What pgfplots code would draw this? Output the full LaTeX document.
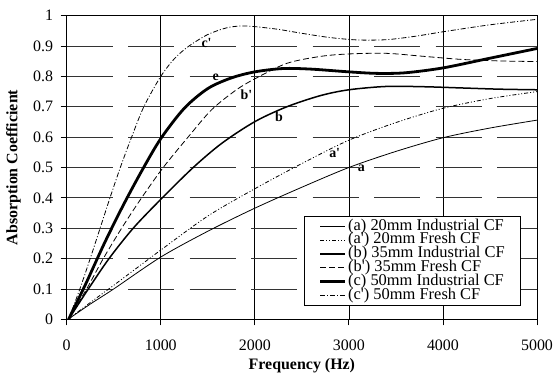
\documentclass[border=0pt]{standalone}
\usepackage{fontspec}
\setmainfont{Liberation Serif}
\usepackage{pgfplots}
\pgfplotsset{compat=1.18}
\begin{document}
\begin{tikzpicture}
\useasboundingbox (-66.7bp,-53.7bp) rectangle (487.3bp,319.3bp);
\begin{axis}[
  scale only axis, width=470.3bp, height=303.6bp,
  xmin=0, xmax=5000, ymin=0, ymax=1,
  xtick={0,1000,2000,3000,4000,5000},
  ytick={0,0.1,0.2,0.3,0.4,0.5,0.6,0.7,0.8,0.9,1},
  xtick pos=bottom, ytick pos=left,
  tick align=outside, major tick length=6bp,
  grid=major,
  major x grid style={black, line width=0.7bp, solid},
  major y grid style={black!80, line width=0.8bp, dash pattern=on 46bp off 15.5bp},
  axis line style={line width=0.9bp},
  tick style={black, line width=0.8bp},
  /pgf/number format/assume math mode=true,
  scaled x ticks=false, scaled y ticks=false,
  tick label style={font=\fontsize{16}{19}\selectfont},
  xticklabel style={/pgf/number format/1000 sep={}, anchor=north, inner sep=0pt, yshift=-14.5bp},
  yticklabel style={/pgf/number format/fixed, /pgf/number format/precision=1, anchor=east, inner sep=0pt, xshift=-7.4bp},
  xlabel={Frequency (Hz)},
  ylabel={Absorption Coefficient},
  xlabel style={at={(axis description cs:0.5,-0.1515)}, anchor=center, font=\fontsize{16}{16}\selectfont\bfseries},
  ylabel style={at={(axis description cs:-0.1131,0.5)}, anchor=center, font=\fontsize{16}{16}\selectfont\bfseries},
  legend cell align=left,
  legend image code/.code={\draw[#1] (0bp,0bp) -- (25bp,0bp);},
  legend style={at={(rel axis cs:0.9653,0.0448)}, anchor=south east,
    font=\fontsize{16.5}{14}\selectfont, draw=black, line width=0.8bp,
    inner xsep=14bp, inner ysep=3bp, row sep=0pt,
    nodes={inner ysep=0pt, inner xsep=1.5bp, text height=10.5bp, text depth=3.3bp}},
]
% (a) 20mm Industrial CF
\addplot[black, line width=0.8bp, smooth, tension=0.5] coordinates {
(15,0) (250,0.05) (500,0.1) (1000,0.205) (1500,0.29) (2000,0.366) (2500,0.435) (3000,0.5) (3500,0.553) (4000,0.598) (4500,0.63) (5000,0.656)};
\addlegendentry{(a) 20mm Industrial CF}
% (a') 20mm Fresh CF
\addplot[black, line width=0.8bp, smooth, tension=0.5, dash pattern=on 4bp off 2bp on 1bp off 2bp on 1bp off 2bp] coordinates {
(15,0) (250,0.055) (500,0.112) (1000,0.228) (1500,0.34) (2000,0.43) (2500,0.513) (3000,0.59) (3500,0.648) (4000,0.695) (4500,0.727) (5000,0.75)};
\addlegendentry{(a\textquotesingle) 20mm Fresh CF}
% (b) 35mm Industrial CF
\addplot[black, line width=1.5bp, smooth, tension=0.5] coordinates {
(20,0) (230,0.1) (450,0.2) (707,0.3) (1000,0.395) (1345,0.5) (1650,0.58) (2000,0.651) (2340,0.70) (2700,0.737) (3000,0.756) (3400,0.767) (3800,0.766) (4200,0.762) (4600,0.758) (5000,0.756)};
\addlegendentry{(b) 35mm Industrial CF}
% (b') 35mm Fresh CF
\addplot[black, line width=0.8bp, smooth, tension=0.5, dash pattern=on 6bp off 3bp] coordinates {
(20,0) (212,0.1) (389,0.2) (584,0.3) (796,0.4) (1026,0.5) (1290,0.6) (1540,0.69) (1800,0.755) (2000,0.792) (2340,0.843) (2700,0.866) (3000,0.874) (3400,0.876) (3800,0.866) (4200,0.856) (4600,0.851) (5000,0.849)};
\addlegendentry{(b\textquotesingle) 35mm Fresh CF}
% (c) 50mm Industrial CF
\addplot[black, line width=2.8bp, smooth, tension=0.5] coordinates {
(20,0) (200,0.115) (400,0.25) (600,0.375) (800,0.49) (1000,0.595) (1250,0.695) (1500,0.76) (1750,0.795) (2000,0.815) (2300,0.826) (2600,0.824) (3000,0.815) (3300,0.81) (3600,0.812) (4000,0.828) (4500,0.86) (5000,0.892)};
\addlegendentry{(c) 50mm Industrial CF}
% (c') 50mm Fresh CF
\addplot[black, line width=0.8bp, smooth, tension=0.5, dash pattern=on 5bp off 2bp on 1bp off 2bp] coordinates {
(20,0) (140,0.1) (250,0.2) (355,0.3) (460,0.4) (570,0.5) (690,0.6) (820,0.7) (1000,0.8) (1150,0.86) (1300,0.9) (1500,0.938) (1700,0.96) (1850,0.966) (2000,0.964) (2250,0.955) (2500,0.942) (2800,0.928) (3100,0.92) (3400,0.921) (3700,0.932) (4000,0.947) (4500,0.97) (5000,0.988)};
\addlegendentry{(c\textquotesingle) 50mm Fresh CF}
\begin{scope}[every node/.style={font=\fontsize{14}{14}\selectfont\bfseries, inner sep=0pt}]
\node at (axis cs:1487,0.909) {c\textquotesingle};
\node at (axis cs:1585,0.797) {e};
\node at (axis cs:1911,0.741) {b\textquotesingle};
\node at (axis cs:2258,0.667) {b};
\node at (axis cs:2849,0.547) {a\textquotesingle};
\node at (axis cs:3133,0.499) {a};
\end{scope}
\end{axis}
\end{tikzpicture}
\end{document}
